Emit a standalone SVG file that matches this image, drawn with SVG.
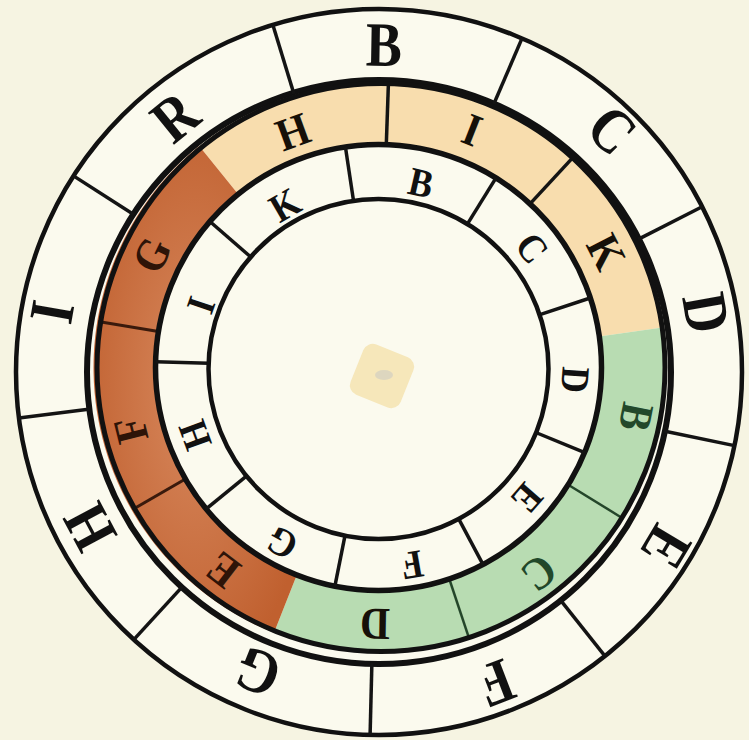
<svg xmlns="http://www.w3.org/2000/svg" width="749" height="740" viewBox="0 0 749 740">
<defs>
<style>
.div{stroke:#141414;stroke-width:3.5;fill:none}
.o{font-family:"Liberation Serif","DejaVu Serif",serif;font-weight:bold;font-size:63px;text-anchor:middle;fill:#111}
.m{font-family:"Liberation Serif","DejaVu Serif",serif;font-weight:bold;font-size:46px;text-anchor:middle;fill:#161008}
.i{font-family:"Liberation Serif","DejaVu Serif",serif;font-weight:bold;font-size:40px;text-anchor:middle;fill:#111}
</style>
<radialGradient id="red" cx="0.5" cy="0.5" r="0.6">
<stop offset="0" stop-color="#d8895e"/>
<stop offset="1" stop-color="#c0602f"/>
</radialGradient>
</defs>
<rect width="749" height="740" fill="#f6f4e2"/>

<g id="outer-ring">
<circle cx="379" cy="372" r="363" fill="#fbfaee" stroke="#111" stroke-width="4.5"/>
<circle cx="379" cy="372" r="292" fill="none" stroke="#111" stroke-width="6"/>
<g class="div">
<line x1="134.1" y1="214.8" x2="73.5" y2="175.9"/>
<line x1="293.9" y1="93.7" x2="272.9" y2="24.9"/>
<line x1="493.6" y1="104.5" x2="522" y2="38.4"/>
<line x1="638.1" y1="239.4" x2="702.1" y2="206.7"/>
<line x1="663.9" y1="431" x2="734.4" y2="445.6"/>
<line x1="560.1" y1="599.7" x2="605" y2="656.1"/>
<line x1="371.9" y1="662.9" x2="370.1" y2="734.9"/>
<line x1="182.4" y1="586.6" x2="133.8" y2="639.6"/>
<line x1="90.4" y1="409" x2="18.9" y2="418.1"/>
</g>
<g class="o">
<text transform="translate(384 45) rotate(1) scale(0.86 1)" y="20.8">B</text>
<text transform="translate(612 130) rotate(44) scale(0.86 1)" y="20.8">C</text>
<text transform="translate(706 313) rotate(80) scale(0.86 1)" y="20.8">D</text>
<text transform="translate(666 547) rotate(121) scale(0.86 1)" y="20.8">E</text>
<text transform="translate(496 683) rotate(159) scale(0.86 1)" y="20.8">F</text>
<text transform="translate(258 672) rotate(202) scale(0.86 1)" y="20.8">G</text>
<text transform="translate(90 527) rotate(242) scale(0.86 1)" y="20.8">H</text>
<text transform="translate(52 312) rotate(280) scale(0.86 1)" y="20.8">I</text>
<text transform="translate(175 117) rotate(321) scale(0.86 1)" y="20.8">R</text>
</g>
</g>

<g id="middle-ring">
<path d="M199.2 146 A285 285 0 0 1 660.7 327.8 L599.3 336.5 A223 223 0 0 0 238.2 194.2 Z" fill="#f8ddae"/>
<path d="M660.7 327.8 A285 285 0 0 1 274 632.7 L296.8 575 A223 223 0 0 0 599.3 336.5 Z" fill="#b8dcb2"/>
<path d="M274 632.7 A285 285 0 0 1 199.2 146 L238.2 194.2 A223 223 0 0 0 296.8 575 Z" fill="url(#red)"/>
<line x1="386.3" y1="144.6" x2="388.4" y2="83.7" stroke="#141414" stroke-width="3.5"/>
<line x1="530" y1="203.9" x2="571.4" y2="159.1" stroke="#141414" stroke-width="3.5"/>
<line x1="568.2" y1="484.7" x2="620.1" y2="516.7" stroke="#24462a" stroke-width="2.5"/>
<line x1="449.3" y1="579" x2="468.6" y2="636.8" stroke="#24462a" stroke-width="2.5"/>
<line x1="185.4" y1="479" x2="132.6" y2="509.5" stroke="#3a1a0c" stroke-width="3"/>
<line x1="158.4" y1="331.5" x2="98.2" y2="321.6" stroke="#3a1a0c" stroke-width="3"/>
<circle cx="381" cy="367.5" r="284" fill="none" stroke="#111" stroke-width="5"/>
<g class="m">
<text transform="translate(293 132) rotate(-20) scale(0.9 1)" y="15.2">H</text>
<text transform="translate(472 130) rotate(21.5) scale(0.9 1)" y="15.2">I</text>
<text transform="translate(606 252) rotate(63) scale(0.9 1)" y="15.2">K</text>
<text transform="translate(636 417) rotate(101) scale(0.9 1)" y="15.2" fill="#22482a">B</text>
<text transform="translate(539 573) rotate(142) scale(0.9 1)" y="15.2" fill="#22482a">C</text>
<text transform="translate(375 624) rotate(181) scale(0.9 1)" y="15.2">D</text>
<text transform="translate(223 570) rotate(217.5) scale(0.9 1)" y="15.2" fill="#2e1408">E</text>
<text transform="translate(131 430) rotate(256) scale(0.9 1)" y="15.2" fill="#2e1408">F</text>
<text transform="translate(152 255) rotate(296) scale(0.9 1)" y="15.2" fill="#2e1408">G</text>
</g>
</g>

<g id="inner-ring">
<circle cx="378.5" cy="367.5" r="223" fill="#fbfaee" stroke="#111" stroke-width="5.5"/>
<g class="div">
<line x1="353.4" y1="199.9" x2="345.5" y2="147.5"/>
<line x1="467.8" y1="223.4" x2="495.7" y2="178.3"/>
<line x1="539.9" y1="314.6" x2="590.2" y2="298"/>
<line x1="535.8" y1="432.5" x2="584.8" y2="452.6"/>
<line x1="458.3" y1="518.1" x2="483.2" y2="564.9"/>
<line x1="345.2" y1="534.7" x2="334.8" y2="586.7"/>
<line x1="247" y1="475.7" x2="205.9" y2="509.2"/>
<line x1="208.6" y1="363.3" x2="155.6" y2="361.8"/>
<line x1="250.2" y1="256.5" x2="210.2" y2="221.7"/>
</g>
<circle cx="378.5" cy="369" r="170" fill="#fbfaee" stroke="#111" stroke-width="4.5"/>
<g class="i">
<text transform="translate(285 205) rotate(-30) scale(0.9 1)" y="13.2">K</text>
<text transform="translate(421 183) rotate(13) scale(0.9 1)" y="13.2">B</text>
<text transform="translate(532 248) rotate(52) scale(0.9 1)" y="13.2">C</text>
<text transform="translate(575 380) rotate(94) scale(0.9 1)" y="13.2">D</text>
<text transform="translate(527 498) rotate(131) scale(0.9 1)" y="13.2">E</text>
<text transform="translate(412 565) rotate(170) scale(0.9 1)" y="13.2">F</text>
<text transform="translate(282 543) rotate(209) scale(0.9 1)" y="13.2">G</text>
<text transform="translate(195 435) rotate(250) scale(0.9 1)" y="13.2">H</text>
<text transform="translate(201 305) rotate(289) scale(0.9 1)" y="13.2">I</text>
</g>
</g>

<g id="center-pin">
<rect x="-27" y="-27" width="54" height="54" rx="10" fill="#f6e7ba" transform="translate(382 376) rotate(22)"/>
<ellipse cx="384" cy="375" rx="9" ry="5" fill="#ddd6bf"/>
</g>
</svg>
